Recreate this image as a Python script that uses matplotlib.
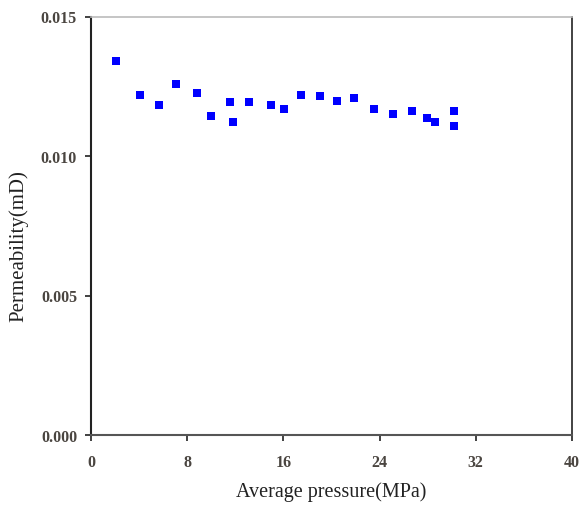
import matplotlib
matplotlib.use("Agg")
import matplotlib.pyplot as plt

# Average pressure (MPa) and measured permeability (mD)
pressure = [2.08, 4.07, 5.67, 7.06, 8.80, 10.02, 11.60, 11.77, 13.15, 14.98, 16.07,
            17.50, 19.08, 20.49, 21.87, 23.53, 25.11, 26.66, 27.93, 28.63, 30.17, 30.17]
permeability = [0.01339, 0.01220, 0.01183, 0.01258, 0.01227, 0.01144, 0.01195, 0.01123,
                0.01195, 0.01183, 0.01167, 0.01220, 0.01214, 0.01197, 0.01209, 0.01167,
                0.01152, 0.01160, 0.01135, 0.01123, 0.01161, 0.01108]

x_ticks = [0, 8, 16, 24, 32, 40]
y_ticks = [0.000, 0.005, 0.010, 0.015]
y_tick_labels = ["0.000", "0.005", "0.010", "0.015"]

plt.rcParams['font.family'] = ['Liberation Serif', 'DejaVu Serif']

fig = plt.figure(figsize=(5.8, 5.06), dpi=100)
ax = fig.add_axes([91 / 580, 70 / 506, 481 / 580, 418.5 / 506])

ax.plot(pressure, permeability, linestyle='none', marker='s', markersize=6,
        color='#0000ff', markeredgewidth=0)

ax.set_xlim(0, 40)
ax.set_ylim(0, 0.015)
ax.set_xticks(x_ticks)
ax.set_xticklabels([str(t) for t in x_ticks])
ax.set_yticks(y_ticks)
ax.set_yticklabels(y_tick_labels)

ax.tick_params(axis='both', direction='out', length=4, width=1.3, color='#333333',
               labelsize=11.5, labelcolor='#4a4540')
ax.tick_params(axis='x', pad=10)
ax.tick_params(axis='y', pad=6)
for lbl in ax.get_xticklabels() + ax.get_yticklabels():
    lbl.set_fontweight('bold')

ax.spines['left'].set_color('#222222')
ax.spines['left'].set_linewidth(1.5)
ax.spines['bottom'].set_color('#555555')
ax.spines['bottom'].set_linewidth(1.5)
ax.spines['top'].set_color('#bbbbbb')
ax.spines['top'].set_linewidth(1.2)
ax.spines['right'].set_color('#222222')
ax.spines['right'].set_linewidth(1.2)

ax.set_xlabel('Average pressure(MPa)', fontsize=14.5, color='#222222', labelpad=8)
ax.set_ylabel('Permeability(mD)', fontsize=15, color='#222222')
ax.yaxis.set_label_coords(-0.131, 0.455)

fig.savefig('out.png', dpi=100)
